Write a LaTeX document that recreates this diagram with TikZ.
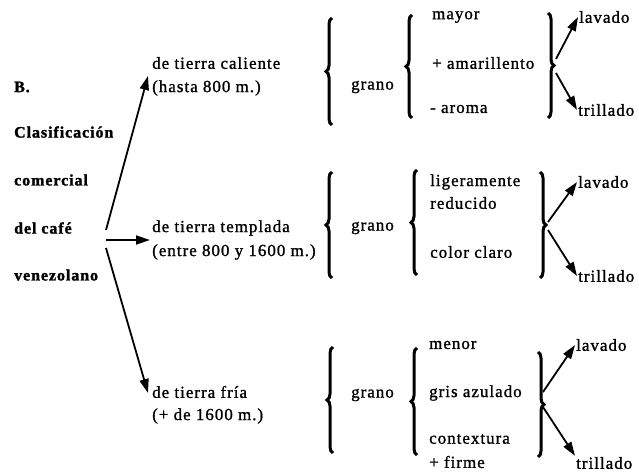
\documentclass[tikz,border=0pt]{standalone}
\usepackage{fontspec}
\setmainfont[LetterSpace=6,UprightFeatures={FakeBold=1.2},BoldFeatures={FakeBold=1.6}]{Liberation Serif}
\usetikzlibrary{arrows.meta,decorations.pathreplacing}
\begin{document}
\begin{tikzpicture}[x=1bp,y=-1bp,
  txt/.style={anchor=west,inner sep=1bp,font=\fontsize{17}{20}\selectfont},
  bld/.style={anchor=west,inner sep=1bp,font=\fontsize{16}{19}\selectfont\bfseries},
  arr/.style={line width=1.8bp,-{Triangle[length=14bp,width=9bp]}},
  brc/.style={decorate,decoration={brace,amplitude=6bp},line width=3bp}]
\useasboundingbox (0,0) rectangle (639,475);
% left title
\node[bld] (tB) at (13,87) {B.};
\node[bld] (tC) at (13,132) {Clasificación};
\node[bld] (tco) at (13,180) {comercial};
\node[bld] (tde) at (13,228) {del café};
\node[bld] (tve) at (13,275) {venezolano};
% regions
\node[txt] (cal1) at (151,63) {de tierra caliente};
\node[txt] (cal2) at (151,88) {(hasta 800 m.)};
\node[txt] (tem1) at (151,228) {de tierra templada};
\node[txt] (tem2) at (151,252) {(entre 800 y 1600 m.)};
\node[txt] (fri1) at (151,392) {de tierra fría};
\node[txt] (fri2) at (151,416) {(+ de 1600 m.)};
% left arrows
\coordinate (o1) at (106,230);
\coordinate (o2) at (106,240);
\coordinate (o3) at (106,248);
\coordinate (e1) at (148,76);
\coordinate (e2) at (150,240);
\coordinate (e3) at (148,393);
\draw[arr] (o1) -- (e1);
\draw[arr] (o2) -- (e2);
\draw[arr] (o3) -- (e3);
% grano
\node[txt] (g1) at (350,87) {grano};
\node[txt] (g2) at (350,228) {grano};
\node[txt] (g3) at (350,395) {grano};
% braces block 1
\draw[brc] (332,125) -- (332,18);
\draw[brc] (412,118) -- (412,15);
\draw[brc] (548,13) -- (548,118);
% braces block 2
\draw[brc] (332,278) -- (332,172);
\draw[brc] (417,275) -- (417,170);
\draw[brc] (540,172) -- (540,278);
% braces block 3
\draw[brc] (333,453) -- (333,347);
\draw[brc] (417,455) -- (417,348);
\draw[brc] (538,352) -- (538,457);
% items
\node[txt] (a1) at (431,17) {mayor};
\node[txt] (a2) at (431,63) {+ amarillento};
\node[txt] (a3) at (429,109) {- aroma};
\node[txt] (b1) at (429,182) {ligeramente};
\node[txt] (b2) at (429,203) {reducido};
\node[txt] (b3) at (429,252) {color claro};
\node[txt] (c1) at (428,345) {menor};
\node[txt] (c2) at (428,393) {gris azulado};
\node[txt] (c3) at (428,439) {contextura};
\node[txt] (c4) at (428,462) {+ firme};
% outcomes
\node[txt] (l1) at (578,17) {lavado};
\node[txt] (t1) at (577,110) {trillado};
\node[txt] (l2) at (577,182) {lavado};
\node[txt] (t2) at (577,276) {trillado};
\node[txt] (l3) at (575,345) {lavado};
\node[txt] (t3) at (575,463) {trillado};
\coordinate (s1a) at (556,59);
\coordinate (s1b) at (556,73);
\coordinate (s2a) at (548,222);
\coordinate (s2b) at (548,230);
\coordinate (s3a) at (543,392);
\coordinate (s3b) at (543,407);
\draw[arr] (s1a) -- (l1.west);
\draw[arr] (s1b) -- (t1.west);
\draw[arr] (s2a) -- (l2.west);
\draw[arr] (s2b) -- (t2.west);
\draw[arr] (s3a) -- (l3.west);
\draw[arr] (s3b) -- (t3.north west);
\end{tikzpicture}
\end{document}
